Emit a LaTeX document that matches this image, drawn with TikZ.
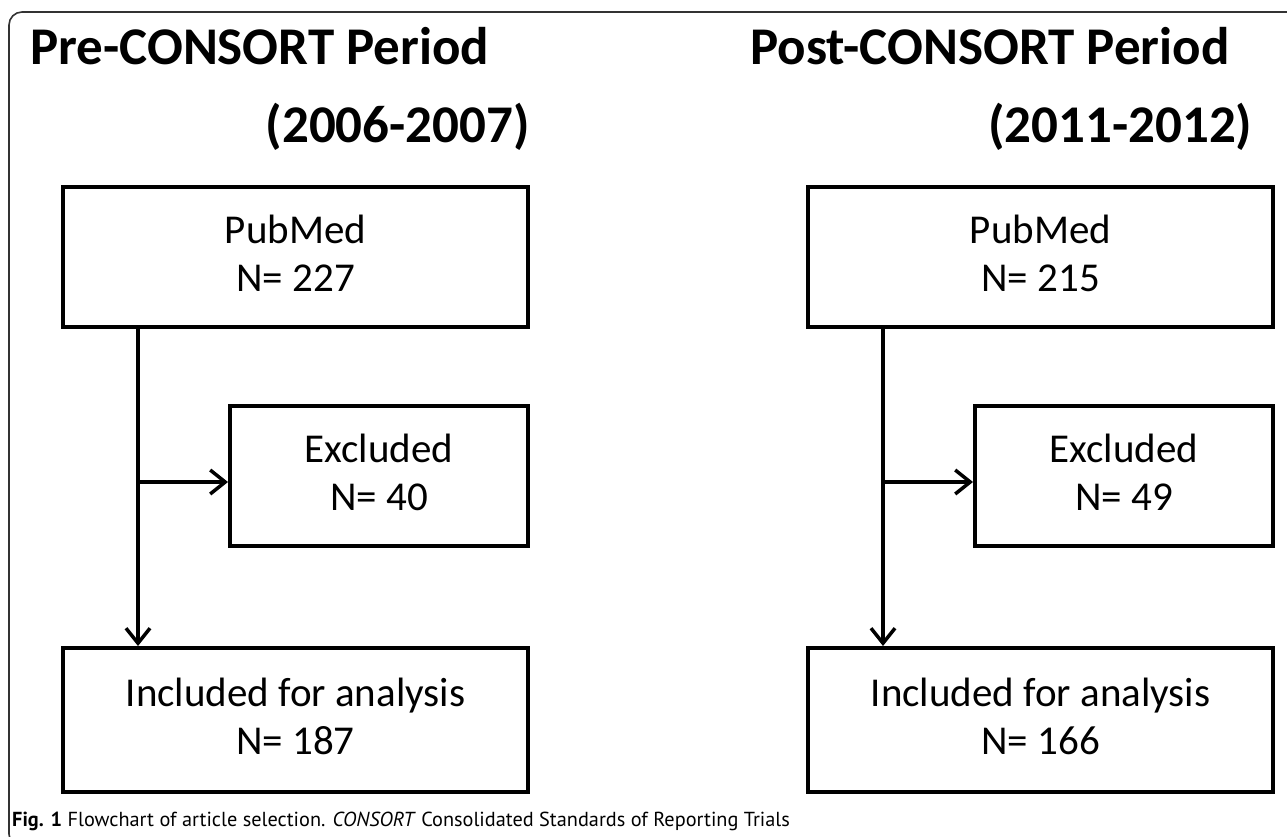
\documentclass[tikz,border=0pt]{standalone}
\usepackage{fontspec}
\setmainfont{Carlito}
\newfontfamily\capfont{PT Sans}
\usetikzlibrary{arrows.meta}
\definecolor{framecol}{HTML}{333333}
\newcommand{\dstrut}{\rule[-7pt]{0pt}{7pt}}
\tikzset{
  box/.style={draw=black, line width=4pt, rectangle, minimum width=465pt, minimum height=140pt, inner sep=0pt, align=center, font=\fontsize{41}{48}\selectfont},
  exbox/.style={box, minimum width=298pt},
  title/.style={inner sep=0pt, font=\fontsize{53}{60}\bfseries\selectfont},
  arr/.style={line width=3.5pt, -{Straight Barb[length=15pt,width=24pt]}},
  frameline/.style={draw=framecol, line width=1.6pt, rounded corners=13pt}
}
\begin{document}
\begin{tikzpicture}[x=1pt,y=-1pt]
\useasboundingbox (0,0) rectangle (1287,837);
\draw[frameline] (1310,12) -- (9,12) -- (9,847) -- (60,847);
% titles
\node[title, anchor=base west] (t1) at (30,65) {Pre-CONSORT Period};
\node[title, anchor=base east] (t2) at (530,143) {(2006-2007)};
\node[title, anchor=base west] (t3) at (750,65) {Post-CONSORT Period};
\node[title, anchor=base west] (t4) at (988,143) {(2011-2012)};
% left column
\node[box] (lp) at (295.5,257) {PubMed\\N= 227\dstrut};
\node[exbox] (lx) at (379,476) {Excluded\\N= 40\dstrut};
\node[box, minimum height=144pt] (li) at (295.5,720) {Included for analysis\\N= 187\dstrut};
\coordinate (lv) at ([xshift=77pt]lp.south west);
\draw[arr] (lv) -- (lv |- li.north);
\draw[arr] ([yshift=-6pt]lx.west -| lv) -- ([yshift=-6pt]lx.west);
% right column
\node[box] (rp) at (1040.5,257) {PubMed\\N= 215\dstrut};
\node[exbox] (rx) at (1124,476) {Excluded\\N= 49\dstrut};
\node[box, minimum height=144pt] (ri) at (1040.5,720) {Included for analysis\\N= 166\dstrut};
\coordinate (rv) at ([xshift=77pt]rp.south west);
\draw[arr] (rv) -- (rv |- ri.north);
\draw[arr] ([yshift=-6pt]rx.west -| rv) -- ([yshift=-6pt]rx.west);
% caption
\node[anchor=base west, inner sep=0pt, font=\capfont\fontsize{20.3}{24}\selectfont] (cap) at (12,826) {\textbf{Fig. 1} Flowchart of article selection. \textit{CONSORT} Consolidated Standards of Reporting Trials};
\end{tikzpicture}
\end{document}
